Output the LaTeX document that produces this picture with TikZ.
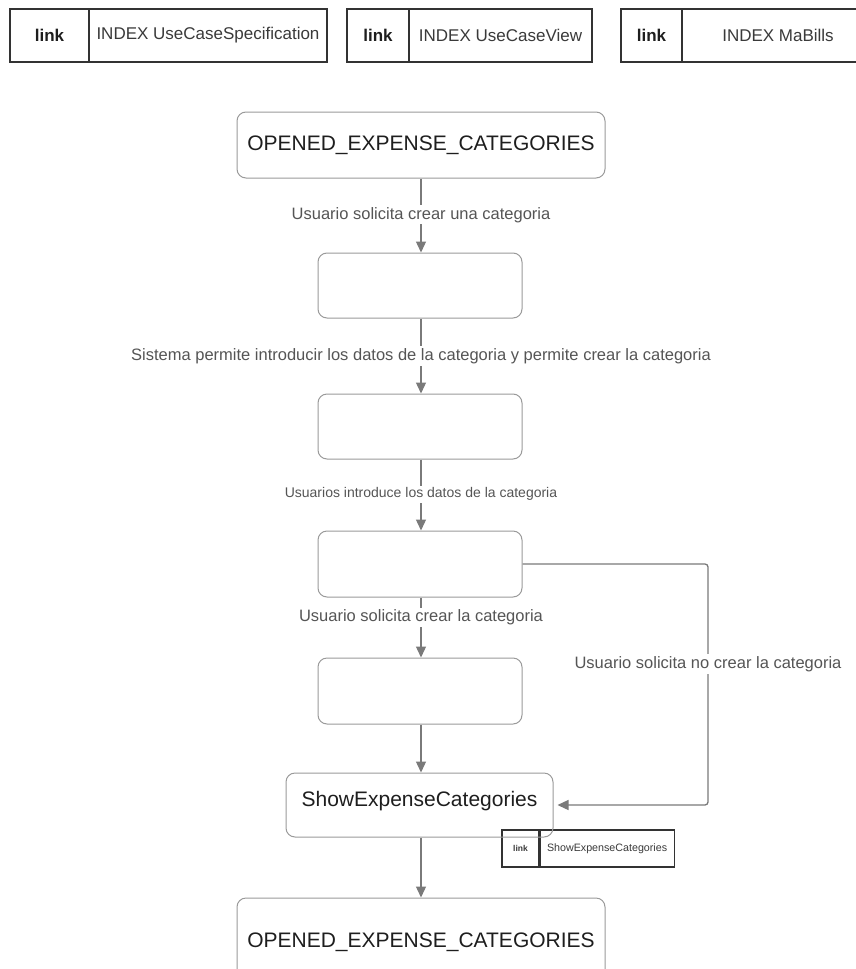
\documentclass[tikz,border=0pt]{standalone}
\usepackage{fontspec}
\setmainfont{Liberation Sans}
\usetikzlibrary{arrows.meta}

\definecolor{boxgray}{HTML}{9A9A9A}
\definecolor{linegray}{HTML}{7A7A7A}
\definecolor{lbltext}{HTML}{555555}
\definecolor{nodetext}{HTML}{1E1E1E}
\definecolor{celledge}{HTML}{333333}
\definecolor{celltext}{HTML}{3A3A3A}

\begin{document}
\begin{tikzpicture}[x=1pt,y=-1pt,
  state/.style={draw=boxgray, line width=1pt, rounded corners=9pt,
    text=nodetext, font=\fontsize{21}{25}\selectfont, inner sep=0pt},
  flow/.style={draw=linegray, line width=1.3pt,
    -{Triangle[length=11pt,width=10pt]}},
  lbl/.style={fill=white, text=lbltext, font=\fontsize{16.5}{20}\selectfont,
    inner sep=2pt},
  cell/.style={draw=celledge, line width=1.2pt, fill=white, text=celltext,
    inner sep=0pt, minimum height=53pt, font=\fontsize{17}{20}\selectfont},
  linkcell/.style={cell, text=nodetext, font=\fontsize{17}{20}\selectfont\bfseries},
  minicell/.style={draw=celledge, line width=1.1pt, fill=white, text=celltext,
    inner sep=0pt, minimum height=37pt, font=\fontsize{10.7}{12}\selectfont}
]
\useasboundingbox (0,0) rectangle (855,969);

% index links across the top
\node[linkcell, minimum width=79pt] (l1) at (49.5,35.5) {link};
\node[cell, minimum width=238pt] (i1) at (208,35.5) {INDEX UseCaseSpecification};
\node[linkcell, minimum width=62pt] (l2) at (378,35.5) {link};
\node[cell, minimum width=183pt] (i2) at (500.5,35.5) {INDEX UseCaseView};
\node[linkcell, minimum width=61pt] (l3) at (651.5,35.5) {link};
\node[cell, minimum width=192pt] (i3) at (778,35.5) {INDEX MaBills};

% link attached to ShowExpenseCategories
\node[minicell, minimum width=37pt, font=\fontsize{8.5}{10}\selectfont\bfseries] (ml) at (520.5,848.5) {link};
\node[minicell, minimum width=134pt, anchor=west] (mi) at (ml.east) {ShowExpenseCategories};

% states
\node[state, minimum width=368pt, minimum height=66pt] (open1) at (421,145) {OPENED\_EXPENSE\_CATEGORIES};
\node[state, minimum width=204pt, minimum height=65pt] (s1) at (420,285.5) {};
\node[state, minimum width=204pt, minimum height=65pt] (s2) at (420,426.5) {};
\node[state, minimum width=204pt, minimum height=66pt] (s3) at (420,564) {};
\node[state, minimum width=204pt, minimum height=66pt] (s4) at (420,691) {};
\node[state, minimum width=267pt, minimum height=64pt] (show) at (419.5,805) {};
\node[font=\fontsize{21}{25}\selectfont, text=nodetext] (showtext) at (419.5,801) {ShowExpenseCategories};
\node[state, minimum width=368pt, minimum height=90pt] (open2) at (421,943) {};
\node[font=\fontsize{21}{25}\selectfont, text=nodetext] (open2text) at (421,942) {OPENED\_EXPENSE\_CATEGORIES};

% transitions
\draw[flow] (open1.south -| 421,0) -- node[lbl, pos=0.49] {Usuario solicita crear una categoria} (s1.north -| 421,0);
\draw[flow] (s1.south -| 421,0) -- node[lbl, pos=0.5] {Sistema permite introducir los datos de la categoria y permite crear la categoria} (s2.north -| 421,0);
\draw[flow] (s2.south -| 421,0) -- node[lbl, pos=0.49, font=\fontsize{14}{17}\selectfont] {Usuarios introduce los datos de la categoria} (s3.north -| 421,0);
\draw[flow] (s3.south -| 421,0) -- node[lbl, pos=0.33] {Usuario solicita crear la categoria} (s4.north -| 421,0);
\draw[flow] (s4.south -| 421,0) -- (show.north -| 421,0);
\draw[flow] (show.south -| 421,0) -- (open2.north -| 421,0);

\coordinate (turnA) at (708,564);
\coordinate (turnB) at (708,805);
\draw[flow, rounded corners=3pt, shorten >=4pt] (s3.east) -- (turnA) -- (turnB) -- (show.east);
\node[lbl] (nolbl) at (708,664) {Usuario solicita no crear la categoria};
\end{tikzpicture}
\end{document}
